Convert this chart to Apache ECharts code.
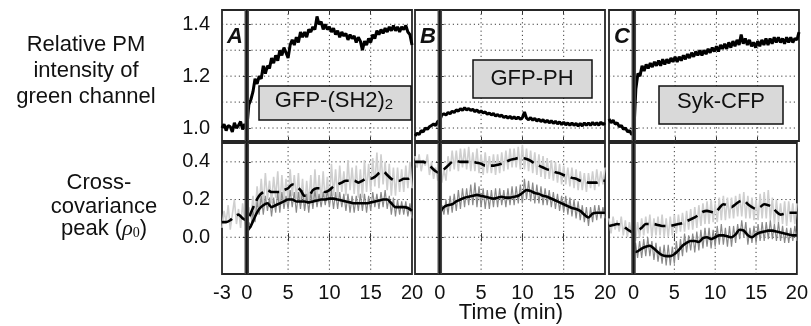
<!DOCTYPE html>
<html><head><meta charset="utf-8">
<script src="https://cdn.jsdelivr.net/npm/echarts@6/dist/echarts.min.js"></script>
<style>html,body{margin:0;padding:0;background:#fff}#c{width:811px;height:326px}</style>
</head><body><div id="c"></div>
<script>
// time (min), 0.5-min steps (smoothed curves)
const T = [-3,-2.5,-2,-1.5,-1,-0.5,0,0.5,1,1.5,2,2.5,3,3.5,4,4.5,5,5.5,6,6.5,7,7.5,8,8.5,9,9.5,10,10.5,11,11.5,12,12.5,13,13.5,14,14.5,15,15.5,16,16.5,17,17.5,18,18.5,19,19.5,20];
// time (min), 0.25-min steps (raw, noisy traces)
const TF = [-3,-2.75,-2.5,-2.25,-2,-1.75,-1.5,-1.25,-1,-0.75,-0.5,-0.25,0,0.25,0.5,0.75,1,1.25,1.5,1.75,2,2.25,2.5,2.75,3,3.25,3.5,3.75,4,4.25,4.5,4.75,5,5.25,5.5,5.75,6,6.25,6.5,6.75,7,7.25,7.5,7.75,8,8.25,8.5,8.75,9,9.25,9.5,9.75,10,10.25,10.5,10.75,11,11.25,11.5,11.75,12,12.25,12.5,12.75,13,13.25,13.5,13.75,14,14.25,14.5,14.75,15,15.25,15.5,15.75,16,16.25,16.5,16.75,17,17.25,17.5,17.75,18,18.25,18.5,18.75,19,19.25,19.5,19.75,20];

// Relative PM intensity of green channel (top row, on TF)
const topA = [1.00,1.015,0.99,1.01,1.005,0.985,1.02,1.00,1.01,1.025,0.995,1.015,
 1.00,1.09,1.11,1.14, 1.19,1.17,1.20,1.19, 1.24,1.21,1.24,1.23, 1.27,1.25,1.28,1.26, 1.30,1.28,1.31,1.29,
 1.27,1.32,1.34,1.32, 1.35,1.33,1.37,1.35, 1.37,1.35,1.38,1.37, 1.39,1.38,1.43,1.40, 1.41,1.38,1.40,1.38,
 1.39,1.37,1.385,1.36, 1.375,1.35,1.37,1.355, 1.365,1.34,1.36,1.345, 1.355,1.33,1.35,1.335, 1.30,1.335,1.32,1.345,
 1.33,1.36,1.345,1.375, 1.36,1.38,1.365,1.385, 1.37,1.39,1.375,1.395, 1.375,1.39,1.37,1.39, 1.38,1.395,1.37,1.36, 1.32];
const topB = [0.97,0.98,0.975,0.99,0.985,1.00,0.995,1.005,1.01,1.015,1.01,1.025,
 1.03,1.05,1.055,1.05, 1.06,1.055,1.065,1.06, 1.07,1.065,1.075,1.068, 1.078,1.07,1.075,1.068, 1.072,1.063,1.07,1.06,
 1.066,1.058,1.062,1.053, 1.058,1.05,1.056,1.046, 1.052,1.045,1.05,1.04, 1.046,1.038,1.045,1.036, 1.043,1.035,1.042,1.034,
 1.04,1.062,1.038,1.032, 1.04,1.03,1.037,1.027, 1.034,1.025,1.032,1.022, 1.03,1.02,1.028,1.018, 1.026,1.016,1.024,1.013,
 1.023,1.012,1.02,1.01, 1.02,1.01,1.018,1.008, 1.018,1.008,1.02,1.01, 1.02,1.01,1.022,1.012, 1.02,1.011,1.023,1.013, 1.02];
const topC = [1.035,1.02,1.03,1.015,1.02,1.005,1.01,0.995,1.0,0.985,0.99,0.975,
 0.98,1.15,1.21,1.20, 1.24,1.22,1.245,1.23, 1.25,1.235,1.255,1.24, 1.26,1.24,1.265,1.245, 1.265,1.25,1.27,1.255,
 1.275,1.255,1.275,1.26, 1.28,1.265,1.285,1.27, 1.29,1.275,1.295,1.28, 1.30,1.28,1.30,1.285, 1.305,1.29,1.31,1.295,
 1.315,1.295,1.32,1.305, 1.325,1.305,1.33,1.31, 1.335,1.315,1.34,1.32, 1.36,1.325,1.345,1.32, 1.34,1.315,1.33,1.31,
 1.335,1.315,1.34,1.32, 1.345,1.32,1.345,1.325, 1.35,1.33,1.35,1.33, 1.345,1.325,1.35,1.33, 1.35,1.33,1.345,1.34, 1.37];

// Cross-covariance peak (bottom row): raw traces on TF, smoothed curves on T
const lightA = [0.05,0.14,0.08,0.17,0.04,0.12,0.20,0.07,0.15,0.05,0.18,0.09,
 0.03,0.16,0.10,0.22, 0.12,0.27,0.16,0.31, 0.17,0.34,0.20,0.30, 0.18,0.32,0.21,0.35, 0.16,0.33,0.19,0.31,
 0.19,0.36,0.22,0.33, 0.20,0.34,0.17,0.31, 0.15,0.30,0.18,0.33, 0.17,0.36,0.20,0.33, 0.19,0.35,0.18,0.32,
 0.18,0.39,0.22,0.36, 0.21,0.38,0.24,0.35, 0.22,0.41,0.25,0.37, 0.23,0.38,0.21,0.36, 0.21,0.41,0.24,0.39,
 0.24,0.42,0.27,0.45, 0.26,0.44,0.28,0.40, 0.25,0.39,0.22,0.37, 0.22,0.37,0.24,0.36, 0.24,0.38,0.26,0.40, 0.26];
const darkA = [null,null,null,null,null,null,null,null,null,null,null,null,
 0.00,0.08,0.05,0.14, 0.08,0.19,0.12,0.22, 0.12,0.22,0.14,0.21, 0.11,0.21,0.13,0.24, 0.13,0.24,0.15,0.22,
 0.15,0.25,0.16,0.24, 0.13,0.24,0.15,0.25, 0.14,0.23,0.13,0.24, 0.15,0.25,0.16,0.23, 0.16,0.24,0.17,0.25,
 0.16,0.25,0.15,0.24, 0.15,0.24,0.16,0.23, 0.14,0.23,0.13,0.22, 0.13,0.22,0.14,0.23, 0.14,0.23,0.13,0.22,
 0.14,0.24,0.16,0.23, 0.15,0.24,0.16,0.25, 0.15,0.22,0.12,0.21, 0.11,0.20,0.12,0.19, 0.12,0.19,0.11,0.18, 0.10];
const dashA = [0.08,0.08,0.09,0.11,0.12,0.10,0.09,0.13,0.18,0.22,0.24,0.25,0.24,0.24,0.24,0.25,0.26,0.28,0.27,0.25,0.22,0.22,0.25,0.26,0.26,0.24,0.25,0.27,0.28,0.29,0.30,0.30,0.30,0.29,0.30,0.31,0.31,0.32,0.34,0.35,0.33,0.31,0.30,0.30,0.31,0.31,0.33];
const solidA = [null,null,null,null,null,null,0.03,0.06,0.11,0.15,0.17,0.18,0.16,0.17,0.18,0.19,0.20,0.20,0.19,0.19,0.19,0.185,0.19,0.195,0.20,0.20,0.205,0.205,0.20,0.195,0.19,0.185,0.18,0.18,0.18,0.18,0.185,0.19,0.195,0.20,0.20,0.18,0.16,0.16,0.16,0.155,0.14];

const lightB = [0.43,0.37,0.44,0.35,0.41,0.38,0.44,0.33,0.40,0.31,0.37,0.30,
 0.38,0.29,0.36,0.30, 0.43,0.35,0.46,0.36, 0.46,0.35,0.47,0.37, 0.47,0.36,0.48,0.35, 0.45,0.35,0.47,0.34,
 0.44,0.33,0.45,0.34, 0.43,0.34,0.44,0.33, 0.44,0.34,0.45,0.35, 0.46,0.36,0.47,0.37, 0.47,0.37,0.48,0.36,
 0.49,0.36,0.47,0.35, 0.46,0.34,0.45,0.33, 0.44,0.32,0.43,0.31, 0.42,0.31,0.41,0.30, 0.40,0.29,0.39,0.28,
 0.38,0.28,0.37,0.27, 0.37,0.26,0.36,0.25, 0.35,0.25,0.34,0.24, 0.34,0.26,0.35,0.25, 0.36,0.27,0.35,0.28, 0.37];
const darkB = [null,null,null,null,null,null,null,null,null,null,null,null,
 0.09,0.17,0.12,0.20, 0.12,0.22,0.13,0.23, 0.14,0.25,0.15,0.26, 0.16,0.26,0.17,0.28, 0.17,0.29,0.16,0.27,
 0.16,0.26,0.15,0.25, 0.15,0.25,0.16,0.26, 0.16,0.26,0.17,0.25, 0.16,0.26,0.17,0.27, 0.17,0.27,0.18,0.28,
 0.18,0.31,0.20,0.30, 0.19,0.29,0.18,0.28, 0.18,0.27,0.17,0.26, 0.17,0.25,0.16,0.24, 0.15,0.23,0.14,0.22,
 0.13,0.22,0.12,0.21, 0.11,0.20,0.10,0.19, 0.09,0.17,0.08,0.16, 0.06,0.16,0.08,0.17, 0.09,0.17,0.10,0.16, 0.10];
const dashB = [0.40,0.40,0.40,0.39,0.37,0.35,0.34,0.36,0.38,0.40,0.405,0.40,0.40,0.40,0.40,0.395,0.39,0.38,0.38,0.38,0.385,0.39,0.40,0.41,0.415,0.42,0.42,0.415,0.405,0.39,0.38,0.37,0.36,0.355,0.345,0.34,0.33,0.325,0.315,0.31,0.30,0.295,0.29,0.29,0.29,0.30,0.30];
const solidB = [null,null,null,null,null,null,0.13,0.16,0.17,0.175,0.19,0.20,0.21,0.215,0.22,0.225,0.22,0.215,0.21,0.205,0.21,0.215,0.21,0.21,0.215,0.22,0.235,0.25,0.245,0.235,0.23,0.22,0.215,0.205,0.195,0.185,0.175,0.165,0.155,0.15,0.14,0.12,0.105,0.125,0.13,0.13,0.13];

const lightC = [0.10,0.02,0.11,0.04,0.09,0.03,0.11,0.01,0.09,0.00,0.08,0.01,
 0.07,-0.02,0.08,0.00, 0.10,0.01,0.11,0.02, 0.12,0.00,0.10,0.01, 0.11,0.01,0.12,0.00, 0.10,0.00,0.11,0.01,
 0.12,0.02,0.12,0.03, 0.13,0.03,0.14,0.04, 0.15,0.04,0.16,0.05, 0.17,0.06,0.18,0.07, 0.19,0.07,0.20,0.08,
 0.18,0.08,0.21,0.09, 0.22,0.09,0.21,0.10, 0.21,0.10,0.22,0.11, 0.23,0.11,0.24,0.10, 0.22,0.10,0.21,0.09,
 0.20,0.09,0.23,0.10, 0.24,0.10,0.25,0.09, 0.21,0.07,0.20,0.08, 0.18,0.07,0.19,0.06, 0.19,0.08,0.18,0.07, 0.18];
const darkC = [null,null,null,null,null,null,null,null,null,null,null,null,
 -0.13,-0.03,-0.11,-0.02, -0.11,-0.01,-0.10,0.00, -0.10,-0.02,-0.12,-0.03, -0.13,-0.05,-0.14,-0.04, -0.15,-0.04,-0.15,-0.05,
 -0.14,-0.02,-0.12,-0.01, -0.10,0.02,-0.08,0.01, -0.07,0.02,-0.08,0.03, -0.07,0.04,-0.06,0.05, -0.05,0.05,-0.06,0.04,
 -0.05,0.06,-0.04,0.07, -0.04,0.05,-0.05,0.06, -0.05,0.06,-0.03,0.07, -0.01,0.09,0.00,0.08, -0.04,0.05,-0.03,0.06,
 -0.03,0.07,-0.02,0.08, -0.02,0.08,-0.01,0.09, -0.01,0.07,-0.02,0.08, -0.02,0.06,-0.03,0.05, -0.03,0.05,-0.02,0.06, -0.02];
const dashC = [0.06,0.065,0.07,0.065,0.05,0.035,0.025,0.035,0.05,0.07,0.07,0.07,0.065,0.06,0.06,0.06,0.065,0.07,0.075,0.085,0.095,0.105,0.12,0.135,0.14,0.135,0.13,0.155,0.175,0.17,0.16,0.175,0.19,0.195,0.175,0.16,0.15,0.16,0.175,0.17,0.16,0.135,0.12,0.125,0.13,0.13,0.13];
const solidC = [null,null,null,null,null,null,-0.08,-0.075,-0.06,-0.05,-0.045,-0.06,-0.08,-0.095,-0.10,-0.10,-0.09,-0.07,-0.045,-0.03,-0.02,-0.02,-0.025,-0.005,0.00,-0.01,0.00,0.01,0.01,0.005,0.00,0.015,0.04,0.035,0.01,0.00,0.015,0.025,0.03,0.035,0.035,0.03,0.025,0.02,0.015,0.01,0.01];

// ticks / labels
const xTicks = [5,10,15];
const xLabelsA = [-3,0,5,10,15,20];
const xLabelsBC = [0,5,10,15,20];
const yTopTicks = [1.0,1.1,1.2,1.3,1.4];
const yTopLabels = [1.0,1.2,1.4];
const yBotTicks = [0.0,0.2,0.4];
const yBotLabels = [0.0,0.2,0.4];
const topSeries = [topA, topB, topC];
const botSeries = [[lightA,darkA,dashA,solidA],[lightB,darkB,dashB,solidB],[lightC,darkC,dashC,solidC]];

const FONT = '"Liberation Sans", Arial, Helvetica, sans-serif';
const XMIN = -3, XMAX = 20;
const cols = [{left:222,width:190},{left:415,width:190},{left:609,width:190}];
const rows = [{top:10,height:131,min:0.95,max:1.455,ticks:yTopTicks,labels:yTopLabels},
              {top:143,height:131,min:-0.195,max:0.5,ticks:yBotTicks,labels:yBotLabels}];

function pairs(xs, arr){ return xs.map((t,i)=>[t,arr[i]]).filter(p=>p[1]!==null); }

const grid=[], xAxis=[], yAxis=[], series=[];
rows.forEach((r,ri)=>{
  cols.forEach((c,ci)=>{
    const g = ri*3+ci;
    grid.push({left:c.left, top:r.top, width:c.width, height:r.height, show:true, borderColor:'#262626', borderWidth:1.8});
    const tickStyle = {show:true, inside:true, length:4, lineStyle:{color:'#333', width:1}};
    xAxis.push({type:'value', gridIndex:g, min:XMIN, max:XMAX, position:'bottom',
      axisLine:{show:false}, splitLine:{show:false},
      axisTick:Object.assign({customValues:xTicks}, tickStyle),
      axisLabel:{show: ri===1, customValues: ci===0 ? xLabelsA : xLabelsBC, fontSize:20, fontFamily:FONT, color:'#111', margin:9}});
    xAxis.push({type:'value', gridIndex:g, min:XMIN, max:XMAX, position:'top',
      axisLine:{show:false}, splitLine:{show:false},
      axisTick:Object.assign({customValues:xTicks}, tickStyle), axisLabel:{show:false}});
    yAxis.push({type:'value', gridIndex:g, min:r.min, max:r.max, position:'left',
      axisLine:{show:false}, splitLine:{show:false},
      axisTick:Object.assign({customValues:r.ticks}, tickStyle),
      axisLabel:{show: ci===0, customValues:r.labels, formatter:v=>Number(v).toFixed(1), fontSize:20, fontFamily:FONT, color:'#111', margin:12}});
    yAxis.push({type:'value', gridIndex:g, min:r.min, max:r.max, position:'right',
      axisLine:{show:false}, splitLine:{show:false},
      axisTick:Object.assign({customValues:r.ticks}, tickStyle), axisLabel:{show:false}});
    const xi = 2*g, yi = 2*g;
    const dotted = {color:'#3a3a3a', width:1, type:[1.2,3]};
    // dotted grid lines (vertical at x ticks, horizontal at y ticks)
    xTicks.forEach(x=>series.push({type:'line', xAxisIndex:xi, yAxisIndex:yi, silent:true, z:1, showSymbol:false,
      data:[[x,r.min],[x,r.max]], lineStyle:dotted}));
    r.ticks.forEach(y=>series.push({type:'line', xAxisIndex:xi, yAxisIndex:yi, silent:true, z:1, showSymbol:false,
      data:[[XMIN,y],[XMAX,y]], lineStyle:dotted}));
    if (ri===0){
      series.push({type:'line', xAxisIndex:xi, yAxisIndex:yi, data:pairs(TF, topSeries[ci]), showSymbol:false, z:3,
        lineStyle:{color:'#000', width:3}});
    } else {
      const [lt,dk,ds,sl] = botSeries[ci];
      series.push({type:'line', xAxisIndex:xi, yAxisIndex:yi, data:pairs(TF, lt), showSymbol:false, z:2,
        lineStyle:{color:'#cfcfcf', width:1.6}});
      series.push({type:'line', xAxisIndex:xi, yAxisIndex:yi, data:pairs(TF, dk), showSymbol:false, z:3,
        lineStyle:{color:'#8a8a8a', width:1.2}});
      series.push({type:'line', xAxisIndex:xi, yAxisIndex:yi, data:pairs(T, ds), showSymbol:false, z:4, smooth:0.3,
        lineStyle:{color:'#000', width:2.6, type:[11,6]}});
      series.push({type:'line', xAxisIndex:xi, yAxisIndex:yi, data:pairs(T, sl), showSymbol:false, z:5, smooth:0.3,
        lineStyle:{color:'#000', width:2.6}});
    }
    // stimulus line at t = 0
    series.push({type:'line', xAxisIndex:xi, yAxisIndex:yi, silent:true, z:8, showSymbol:false,
      data:[[0,r.min],[0,r.max]], lineStyle:{color:'#444', width:4.5}});
    series.push({type:'line', xAxisIndex:xi, yAxisIndex:yi, silent:true, z:9, showSymbol:false,
      data:[[0,r.min],[0,r.max]], lineStyle:{color:'#111', width:1.5}});
  });
});

const txt = (x,y,text,extra)=>Object.assign({type:'text', x, y, silent:true,
  style:Object.assign({text, fill:'#111', font:'22px '+FONT, textAlign:'center', textVerticalAlign:'middle'}, extra||{})});

const graphic = [
  txt(86,45,'Relative PM'), txt(86,71,'intensity of'), txt(86,97,'green channel'),
  txt(99,183,'Cross-'), txt(104,207,'covariance'),
  txt(104,229,'{n|peak (}{i|ρ}{s|0}{n|)}', {rich:{
    n:{font:'22px '+FONT, fill:'#111'},
    i:{font:'italic 22px "Liberation Serif", serif', fill:'#111'},
    s:{font:'14px "Liberation Serif", serif', fill:'#111', verticalAlign:'bottom', lineHeight:10}}}),
  txt(511,313,'Time (min)'),
  txt(235,37,'A',{font:'italic bold 22px '+FONT}),
  txt(428,37,'B',{font:'italic bold 22px '+FONT}),
  txt(622,37,'C',{font:'italic bold 22px '+FONT}),
  {type:'rect', shape:{x:259,y:86,width:152,height:34}, style:{fill:'#d9d9d9', stroke:'#111', lineWidth:1.5}, z:50},
  {type:'rect', shape:{x:473,y:60,width:119,height:38}, style:{fill:'#d9d9d9', stroke:'#111', lineWidth:1.5}, z:50},
  {type:'rect', shape:{x:659,y:86,width:124,height:38}, style:{fill:'#d9d9d9', stroke:'#111', lineWidth:1.5}, z:50},
  Object.assign(txt(334,101,'{a|GFP-(SH2)}{b|2}', {rich:{
    a:{font:'22px '+FONT, fill:'#111'},
    b:{font:'15px '+FONT, fill:'#111', verticalAlign:'bottom', lineHeight:11}}}), {z:51}),
  Object.assign(txt(532,79,'GFP-PH'), {z:51}),
  Object.assign(txt(721,102,'Syk-CFP'), {z:51})
];

const chart = echarts.init(document.getElementById('c'), null, {renderer:'canvas'});
chart.setOption({animation:false, backgroundColor:'#fff', grid, xAxis, yAxis, series, graphic});
</script></body></html>
